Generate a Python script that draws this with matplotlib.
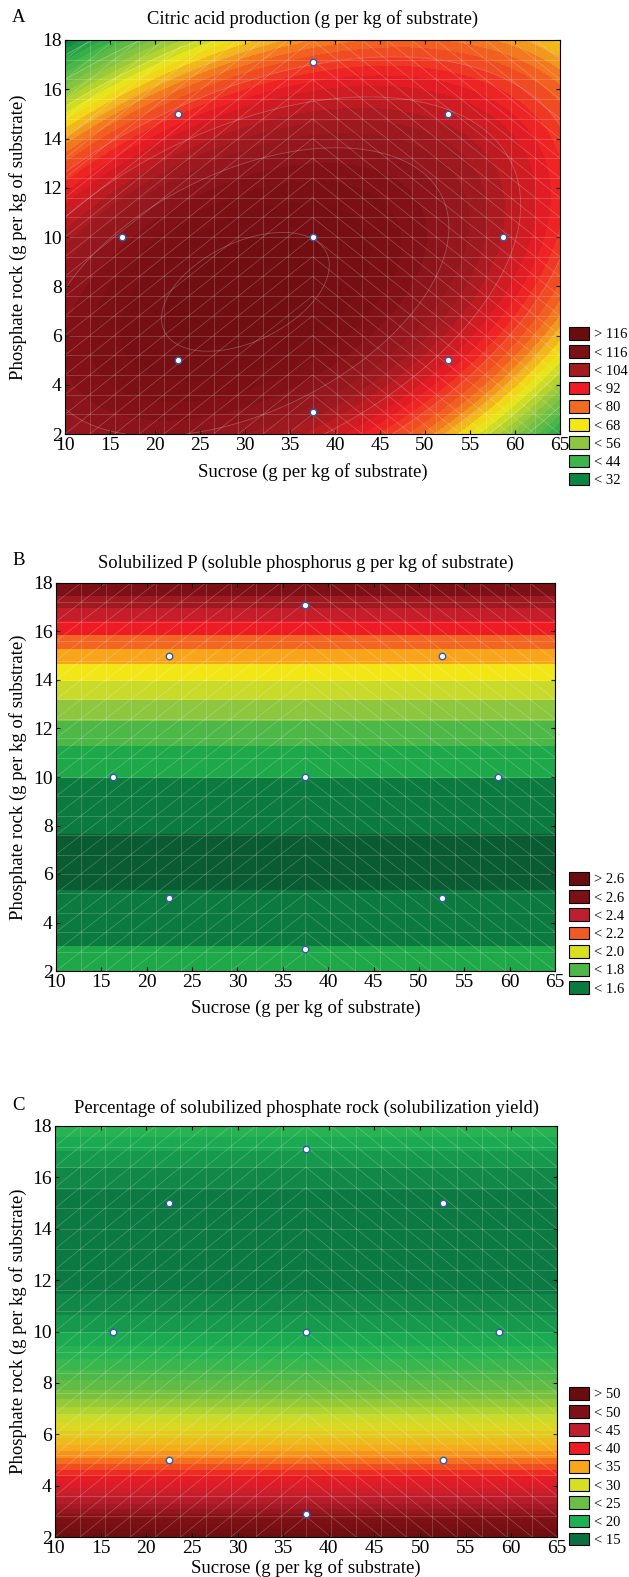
import numpy as np
import matplotlib
matplotlib.use("Agg")
import matplotlib.pyplot as plt
from matplotlib.colors import LinearSegmentedColormap
from matplotlib.collections import LineCollection
from matplotlib.patches import Patch

plt.rcParams["font.family"] = ["Liberation Serif", "DejaVu Serif"]

W, H = 629, 1577

# design points (central composite design)
sucrose = [16.3, 22.5, 22.5, 37.5, 37.5, 37.5, 52.5, 52.5, 58.7]
phosphate = [10.0, 5.0, 15.0, 2.9, 10.0, 17.1, 5.0, 15.0, 10.0]

# fitted quadratic surface for citric acid, coded units u=(x-37.5)/15, v=(y-10)/5
# [b0, bu, bv, buu, bvv, buv]
citric_coef = [115.9, -3.83, -7.20, -7.95, -13.19, 9.15]
# P and yield depend on phosphate rock only: [min value, curvature, y at min]
solub_p_coef = [1.487, 0.00925, 6.5]
yield_coef = [12.5, 0.30, 13.5]

citric_levels = [32, 44, 56, 68, 80, 92, 104, 116]
citric_colors = ["#0B8543", "#3DB54A", "#8DC63F", "#F2E816", "#F26B21",
                 "#ED1C24", "#A21B21", "#7D1015", "#6A0D0F"]
solub_p_levels = [1.6, 1.8, 2.0, 2.2, 2.4, 2.6]
solub_p_colors = ["#0A7A3F", "#4DB848", "#D8DF21", "#F15A24", "#BE1E2D",
                  "#7D1016", "#6A0D0F"]
# fill bands of panel B (0.1 wide) and their colours
solub_p_bands = [1.4, 1.5, 1.6, 1.7, 1.8, 1.9, 2.0, 2.1, 2.2, 2.3, 2.4, 2.5, 2.6, 2.7, 2.8]
solub_p_band_colors = ["#0A5A32", "#0C7A3F", "#1EA84A", "#4DB848", "#8DC63F",
                       "#C9DA2A", "#F2E616", "#F8A51B", "#F26522", "#ED1C24",
                       "#C41E2A", "#9E1A20", "#7D1016", "#6A0D0F"]
yield_levels = [15, 20, 25, 30, 35, 40, 45, 50]
yield_colors = ["#0A7040", "#1DB153", "#6ABD45", "#D7DF23", "#F9A61B",
                "#ED1C24", "#BE1E2D", "#7F1116", "#6A0D0F"]

titles = ["Citric acid production (g per kg of substrate)",
          "Solubilized P (soluble phosphorus g per kg of substrate)",
          "Percentage of solubilized phosphate rock (solubilization yield)"]
letters = ["A", "B", "C"]

x = np.linspace(10, 65, 300)
y = np.linspace(2, 18, 300)
X, Y = np.meshgrid(x, y)
U, V = (X - 37.5) / 15, (Y - 10) / 5

b = citric_coef
Z_citric = b[0] + b[1]*U + b[2]*V + b[3]*U**2 + b[4]*V**2 + b[5]*U*V
Z_p = solub_p_coef[0] + solub_p_coef[1] * (Y - solub_p_coef[2])**2
Z_yield = yield_coef[0] + yield_coef[1] * (Y - yield_coef[2])**2

fig = plt.figure(figsize=(W / 100, H / 100), dpi=100)


def make_cmap(levels, colors):
    step = levels[1] - levels[0]
    centers = [levels[0] - step / 2] + [l + step / 2 for l in levels]
    vmin, vmax = centers[0], centers[-1]
    pos = [(c - vmin) / (vmax - vmin) for c in centers]
    return LinearSegmentedColormap.from_list("m", list(zip(pos, colors))), vmin, vmax


def mesh_lines(ax):
    xs = np.linspace(10, 65, 21)
    ys = np.linspace(2, 18, 21)
    segs = [[(xv, 2), (xv, 18)] for xv in xs] + [[(10, yv), (65, yv)] for yv in ys]
    for i in range(20):
        for j in range(20):
            if xs[i] < 37.5:
                segs.append([(xs[i], ys[j]), (xs[i+1], ys[j+1])])
            else:
                segs.append([(xs[i], ys[j+1]), (xs[i+1], ys[j])])
    ax.add_collection(LineCollection(segs, colors="white", linewidths=0.5, alpha=0.25))


# pixel boxes: left, top, right, bottom, title y, xlabel y (bottom of text), legend top
panels = [
    (65, 40, 560, 434, 19, 481, 327),
    (56, 583, 555, 971, 563, 1017, 872),
    (55, 1126, 557, 1537, 1108, 1577, 1387),
]

for k, box in enumerate(panels):
    l, t, r, bt, ty, xly, lgt = box
    ax = fig.add_axes([l / W, 1 - bt / H, (r - l) / W, (bt - t) / H])
    if k == 0:
        levels, colors = citric_levels, citric_colors
        cmap, vmin, vmax = make_cmap(levels, colors)
        ax.contourf(X, Y, Z_citric, levels=np.arange(20, 127, 3), cmap=cmap,
                    vmin=vmin, vmax=vmax, extend="both")
        ax.contour(X, Y, Z_citric, levels=levels, colors="white", linewidths=0.6, alpha=0.25)
    elif k == 1:
        levels, colors = solub_p_levels, solub_p_colors
        ax.contourf(X, Y, Z_p, levels=solub_p_bands, colors=solub_p_band_colors, extend="both")
    else:
        levels, colors = yield_levels, yield_colors
        cmap, vmin, vmax = make_cmap(levels, colors)
        ax.contourf(X, Y, Z_yield, levels=np.arange(10, 56, 1.25), cmap=cmap,
                    vmin=vmin, vmax=vmax, extend="both")
    mesh_lines(ax)
    ax.scatter(sucrose, phosphate, s=22, facecolor="white", edgecolor="#2F5DA8",
               linewidth=1.0, zorder=5)
    ax.set_xlim(10, 65)
    ax.set_ylim(2, 18)
    ax.set_xticks(range(10, 66, 5))
    ax.set_yticks(range(2, 19, 2))
    ax.tick_params(direction="in", top=True, right=True, length=3, width=0.8,
                   labelsize=14, pad=1.5)
    ax.tick_params(axis="x", pad=2.5)
    ax.tick_params(axis="y", pad=2.5)
    for s in ax.spines.values():
        s.set_linewidth(0.8)

    fig.text((l + r) / 2 / W, 1 - ty / H, titles[k], ha="center", va="center", fontsize=13.3)
    fig.text(12 / W, 1 - (ty - 2) / H, letters[k], ha="left", va="center", fontsize=13.5)
    fig.text((l + r) / 2 / W, 1 - xly / H, "Sucrose (g per kg of substrate)",
             ha="center", va="bottom", fontsize=13.5)
    fig.text(18 / W, 1 - (t + bt) / 2 / H, "Phosphate rock (g per kg of substrate)",
             ha="center", va="center", rotation=90, fontsize=13.5)

    fmt = "{:.1f}" if k == 1 else "{:g}"
    labels = ["> " + fmt.format(levels[-1])] + ["< " + fmt.format(v) for v in levels[::-1]]
    handles = [Patch(facecolor=c, edgecolor="black", linewidth=0.8) for c in colors[::-1]]
    fig.legend(handles, labels, loc="upper left", bbox_to_anchor=(569 / W, 1 - lgt / H),
               frameon=False, fontsize=10.5, handlelength=1.35, handleheight=0.95,
               labelspacing=0.27, handletextpad=0.35, borderpad=0, borderaxespad=0)

fig.savefig("out.png", dpi=100)
